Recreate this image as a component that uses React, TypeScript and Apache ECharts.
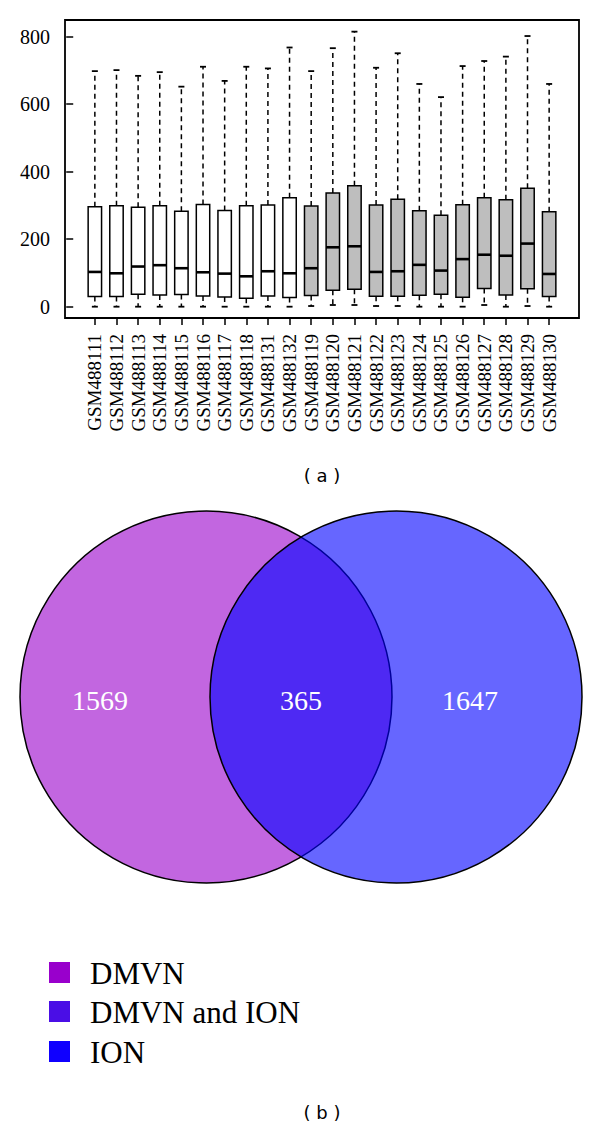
import React, { useEffect, useRef } from "react";
import * as echarts from "echarts";

// ---- Data (a) box plot ----
const samples = [
  "GSM488111", "GSM488112", "GSM488113", "GSM488114", "GSM488115", "GSM488116",
  "GSM488117", "GSM488118", "GSM488131", "GSM488132", "GSM488119", "GSM488120",
  "GSM488121", "GSM488122", "GSM488123", "GSM488124", "GSM488125", "GSM488126",
  "GSM488127", "GSM488128", "GSM488129", "GSM488130",
];
const lowerWhisker = [0, 0, 0, 0, 0, 0, 0, 0, 0, 0, 2, 5, 5, 2, 2, 0, 0, 0, 5, 0, 2, 0];
const q1 = [30, 30, 37, 35, 36, 32, 29, 25, 32, 27, 33, 49, 52, 31, 31, 34, 37, 28, 54, 35, 53, 30];
const median = [103, 99, 119, 123, 114, 102, 98, 90, 105, 99, 114, 176, 179, 103, 105, 124, 107, 141, 154, 151, 187, 97];
const q3 = [296, 299, 295, 299, 283, 303, 285, 299, 301, 323, 298, 337, 358, 301, 318, 284, 271, 302, 323, 317, 351, 281];
const upperWhisker = [698, 701, 684, 695, 652, 711, 669, 711, 706, 768, 698, 766, 815, 708, 751, 660, 621, 713, 728, 741, 802, 660];
const sampleGroup = [0, 0, 0, 0, 0, 0, 0, 0, 0, 0, 1, 1, 1, 1, 1, 1, 1, 1, 1, 1, 1, 1];
const yTicks = [0, 200, 400, 600, 800];

// ---- Data (b) Venn ----
const vennCounts = [1569, 365, 1647];
const legendNames = ["DMVN", "DMVN and ION", "ION"];

const SERIF = "Liberation Serif";
const SANS = "DejaVu Sans";

export default function App() {
  const ref = useRef<HTMLDivElement>(null);

  useEffect(() => {
    document.body.style.margin = "0";
    const chart = echarts.init(ref.current!, null, { renderer: "svg" });

    const boxData = samples.map((_, i) => [
      i + 1,
      lowerWhisker[i],
      q1[i],
      median[i],
      q3[i],
      upperWhisker[i],
      sampleGroup[i],
    ]);
    const positions = samples.map((_, i) => i + 1);
    const groupFill = ["#ffffff", "#bebebe"];

    const renderItem = (params: any, api: any) => {
      const x = api.value(0);
      const pLow = api.coord([x, api.value(1)]);
      const pQ1 = api.coord([x, api.value(2)]);
      const pMed = api.coord([x, api.value(3)]);
      const pQ3 = api.coord([x, api.value(4)]);
      const pUp = api.coord([x, api.value(5)]);
      const g = api.value(6);
      const cx = pMed[0];
      const halfW = api.size([0.62, 0])[0] / 2;
      const capHalf = 3;
      const lineStyle = { stroke: "#000", lineWidth: 1.5 };
      return {
        type: "group",
        children: [
          {
            type: "line",
            shape: { x1: cx, y1: pQ3[1], x2: cx, y2: pUp[1] },
            style: { ...lineStyle, lineDash: [5, 4] },
          },
          {
            type: "line",
            shape: { x1: cx, y1: pQ1[1], x2: cx, y2: pLow[1] },
            style: { ...lineStyle, lineDash: [5, 4] },
          },
          {
            type: "line",
            shape: { x1: cx - capHalf, y1: pUp[1], x2: cx + capHalf, y2: pUp[1] },
            style: { stroke: "#000", lineWidth: 1.8 },
          },
          {
            type: "line",
            shape: { x1: cx - capHalf, y1: pLow[1], x2: cx + capHalf, y2: pLow[1] },
            style: { stroke: "#000", lineWidth: 1.8 },
          },
          {
            type: "rect",
            shape: { x: cx - halfW, y: pQ3[1], width: halfW * 2, height: pQ1[1] - pQ3[1] },
            style: { fill: groupFill[g], stroke: "#000", lineWidth: 1.5 },
          },
          {
            type: "line",
            shape: { x1: cx - halfW, y1: pMed[1], x2: cx + halfW, y2: pMed[1] },
            style: { stroke: "#000", lineWidth: 2.6 },
          },
        ],
      };
    };

    // Venn geometry
    const cy = 697;
    const r = 186;
    const leftCx = 206;
    const rightCx = 396;
    const labelX = [100, 301, 470];
    const legendColors = ["#9900cc", "#4a0ee6", "#0f00ff"];
    const legendTop = [962, 1001, 1041];

    const graphics: any[] = [
      {
        type: "circle",
        shape: { cx: leftCx, cy, r },
        style: { fill: "rgba(153,0,204,0.6)", stroke: "#000", lineWidth: 1.5 },
      },
      {
        type: "circle",
        shape: { cx: rightCx, cy, r },
        style: { fill: "rgba(0,0,255,0.6)", stroke: "#000", lineWidth: 1.5 },
      },
      ...vennCounts.map((c, i) => ({
        type: "text",
        x: labelX[i],
        y: 700,
        style: {
          text: String(c),
          fill: "#ffffff",
          fontFamily: SERIF,
          fontSize: 28,
          textAlign: "center",
          textVerticalAlign: "middle",
        },
      })),
      ...legendNames.map((n, i) => ({
        type: "rect",
        shape: { x: 49, y: legendTop[i], width: 21, height: 21 },
        style: { fill: legendColors[i] },
      })),
      ...legendNames.map((n, i) => ({
        type: "text",
        x: 90,
        y: legendTop[i] + 11,
        style: {
          text: n,
          fill: "#000",
          fontFamily: SERIF,
          fontSize: 31,
          textAlign: "left",
          textVerticalAlign: "middle",
        },
      })),
      {
        type: "text",
        x: 322,
        y: 475,
        style: { text: "( a )", fill: "#000", fontFamily: SANS, fontSize: 18, textAlign: "center", textVerticalAlign: "middle" },
      },
      {
        type: "text",
        x: 322,
        y: 1112,
        style: { text: "( b )", fill: "#000", fontFamily: SANS, fontSize: 18, textAlign: "center", textVerticalAlign: "middle" },
      },
    ];

    chart.setOption({
      animation: false,
      backgroundColor: "#ffffff",
      textStyle: { fontFamily: SERIF },
      grid: {
        left: 65,
        top: 20,
        width: 514,
        height: 298,
        show: true,
        borderColor: "#000",
        borderWidth: 1.8,
        backgroundColor: "transparent",
      },
      xAxis: {
        type: "value",
        min: -0.38,
        max: 23.38,
        axisLine: { show: false, onZero: false },
        splitLine: { show: false },
        axisTick: {
          show: true,
          customValues: positions,
          length: 7,
          lineStyle: { color: "#000", width: 1.5 },
        },
        axisLabel: {
          customValues: positions,
          rotate: 90,
          margin: 16,
          color: "#000",
          fontFamily: SERIF,
          fontSize: 19,
          formatter: (v: number) => samples[Math.round(v) - 1] ?? "",
        },
      },
      yAxis: {
        type: "value",
        min: -33.5,
        max: 849.5,
        axisLine: { show: false },
        splitLine: { show: false },
        axisTick: {
          show: true,
          customValues: yTicks,
          length: 7,
          lineStyle: { color: "#000", width: 1.5 },
        },
        axisLabel: {
          customValues: yTicks,
          margin: 15,
          color: "#000",
          fontFamily: SERIF,
          fontSize: 20,
        },
      },
      series: [
        {
          type: "custom",
          renderItem,
          data: boxData,
          encode: { x: 0, y: [1, 2, 3, 4, 5] },
          clip: false,
        },
      ],
      graphic: graphics,
    });

    return () => chart.dispose();
  }, []);

  return <div ref={ref} style={{ width: 600, height: 1124 }} />;
}
